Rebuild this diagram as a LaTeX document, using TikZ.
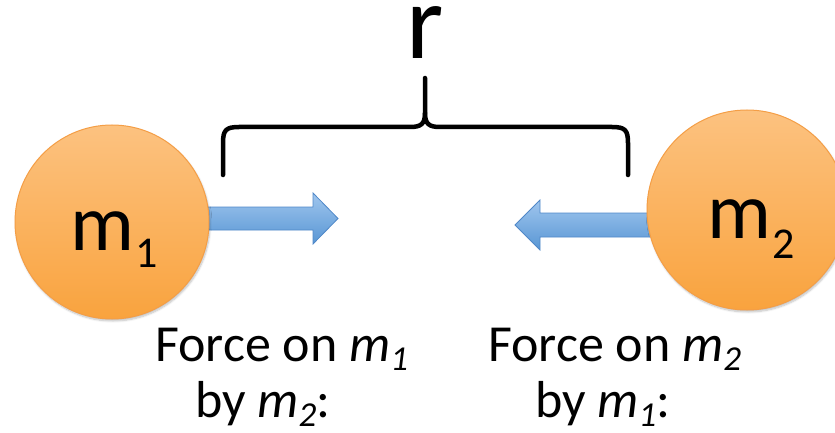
\documentclass[tikz,border=0pt]{standalone}
\usepackage{fontspec}
\usetikzlibrary{shadows.blur}
\setmainfont{Carlito}
\definecolor{orTop}{RGB}{252,194,128}
\definecolor{orBot}{RGB}{249,163,62}
\definecolor{orLine}{RGB}{244,158,70}
\definecolor{blTop}{RGB}{160,198,238}
\definecolor{blBot}{RGB}{88,150,212}
\definecolor{blLine}{RGB}{80,136,200}
\begin{document}
\begin{tikzpicture}[x=1pt,y=-1pt,
  mass/.style={circle, draw=orLine, line width=1pt, top color=orTop, bottom color=orBot, inner sep=0pt,
    blur shadow={shadow xshift=1pt, shadow yshift=-2pt, shadow opacity=25, shadow blur steps=6}},
  blockarrow/.style={draw=blLine, line width=0.8pt, top color=blTop, bottom color=blBot, line join=miter},
  brace/.style={line width=4.5pt, line cap=round, line join=round, draw=black},
  lbl/.style={anchor=base west, inner sep=0pt, font=\fontsize{52}{60}\selectfont},
  mlbl/.style={anchor=base west, inner sep=0pt, font=\fontsize{80}{80}\selectfont}]
\useasboundingbox (0,0) rectangle (835,433);
% block arrows (drawn first, circles cover their roots)
\coordinate (a1root) at (200,218.5);
\coordinate (a1tip) at (338,218.5);
\draw[blockarrow] (a1root) ++(0,-11.5) -- (313,207) -- (313,193) -- (a1tip) -- (313,244) -- (313,230) -- ++(-113,0) -- cycle;
\coordinate (a2root) at (655,225);
\coordinate (a2tip) at (515,225);
\draw[blockarrow] (a2root) ++(0,-12) -- (540,213) -- (540,200) -- (a2tip) -- (540,250) -- (540,237) -- (655,237) -- cycle;
% masses
\node[mass, minimum size=194pt] (m1) at (112,222) {};
\node[mass, minimum size=200pt] (m2) at (747,210) {};
\node[mlbl] (m1t) at (70,250) {m\kern1pt\raisebox{-17pt}{\fontsize{44}{44}\selectfont 1}};
\node[mlbl] (m2t) at (707,238) {m\kern1pt\raisebox{-20pt}{\fontsize{44}{44}\selectfont 2}};
% brace
\draw[brace] (223,175) -- (223,143) .. controls (223,130) and (226,127) .. (239,127) -- (410,127) .. controls (421,127) and (425,124) .. (425,113) -- (425,78);
\draw[brace] (425,113) .. controls (425,124) and (429,127) .. (440,127) -- (612,127) .. controls (625,127) and (628,130) .. (628,143) -- (628,175);
\node[anchor=base west, inner sep=0pt, font=\fontsize{107}{107}\selectfont] (r) at (406,59) {r};
% labels
\node[lbl] (f1a) at (155,361) {Force on \textit{m}\raisebox{-9pt}{\fontsize{35}{35}\selectfont\textit{1}}};
\node[lbl] (f1b) at (195,417) {by \textit{m}\raisebox{-9pt}{\fontsize{35}{35}\selectfont\textit{2}}:};
\node[lbl] (f2a) at (488,361) {Force on \textit{m}\raisebox{-9pt}{\fontsize{35}{35}\selectfont\textit{2}}};
\node[lbl] (f2b) at (535,417) {by \textit{m}\raisebox{-9pt}{\fontsize{35}{35}\selectfont\textit{1}}:};
\end{tikzpicture}
\end{document}
